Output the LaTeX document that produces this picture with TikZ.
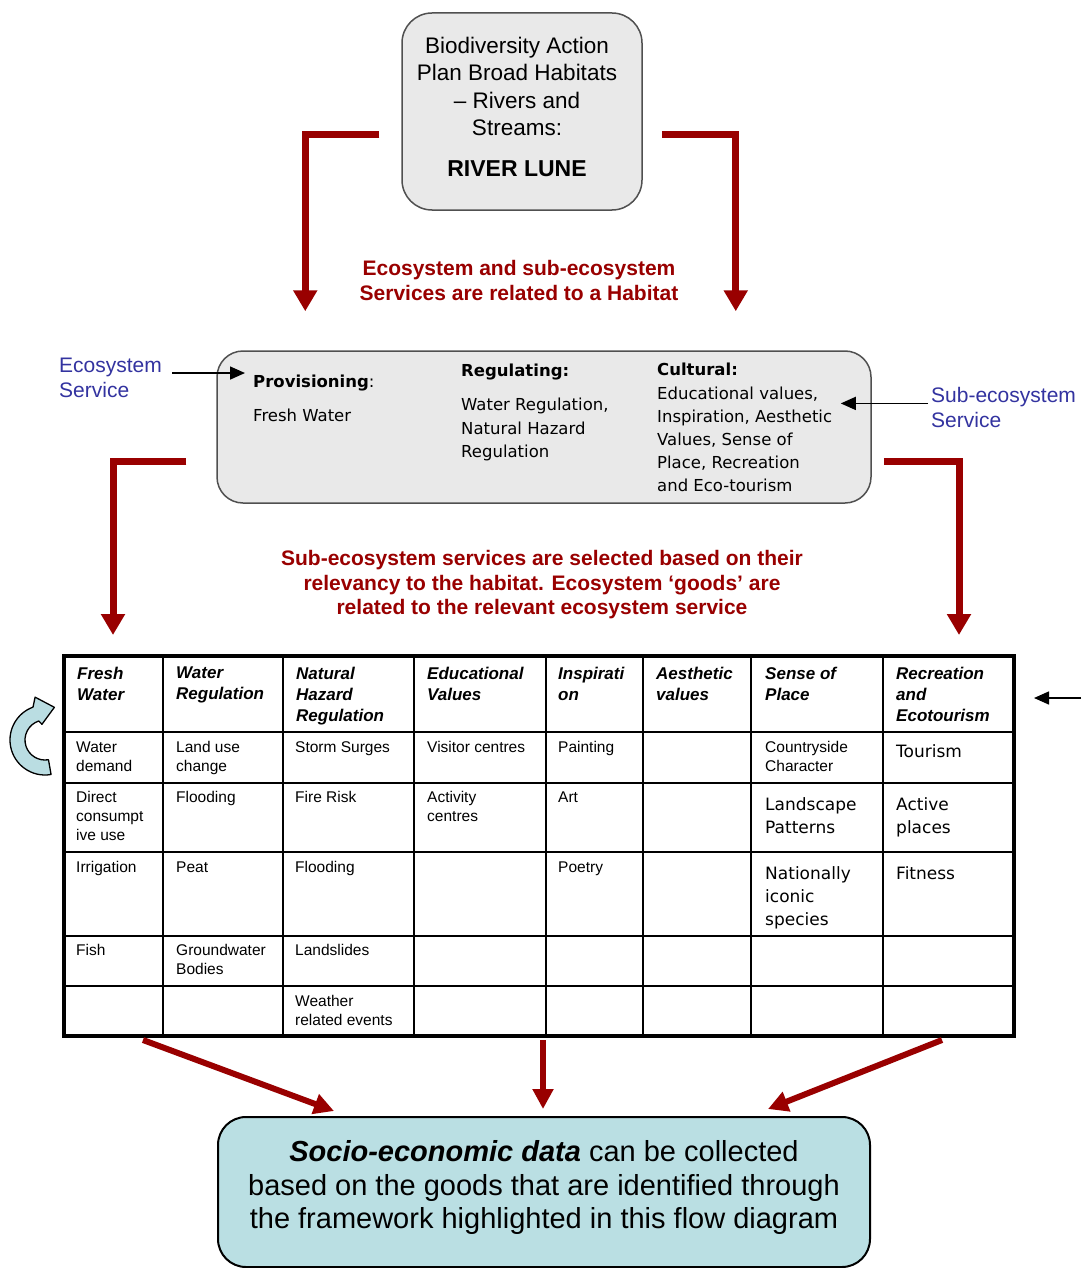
\documentclass[tikz,border=0pt]{standalone}
\usepackage{fontspec}
\setmainfont{Liberation Sans}
\newfontfamily\dvfont{DejaVu Sans}
\usetikzlibrary{arrows.meta,calc}
\definecolor{dred}{RGB}{153,0,0}
\definecolor{eblue}{RGB}{51,51,160}
\definecolor{boxgray}{RGB}{233,233,233}
\definecolor{boxedge}{RGB}{80,80,80}
\definecolor{socfill}{RGB}{186,223,227}
\definecolor{arrblue}{RGB}{186,221,226}
\begin{document}
\begin{tikzpicture}[x=1pt,y=-1pt,
  gbox/.style={draw=boxedge, fill=boxgray, line width=1.5pt, inner sep=0pt},
  redarr/.style={draw=dred, line width=7pt, line join=miter, -{Triangle[length=21pt,width=23pt]}},
  redarrb/.style={draw=dred, line width=6pt, -{Triangle[length=20pt,width=20pt]}},
  blkarr/.style={draw=black, line width=1.5pt, -{Triangle[length=15pt,width=13pt]}},
  redtxt/.style={text=dred, font=\fontsize{21}{25}\selectfont\bfseries, align=center, inner sep=0pt, anchor=north},
  bluetxt/.style={text=eblue, font=\fontsize{21}{25}\selectfont, align=left, inner sep=0pt, anchor=north west},
  midtxt/.style={font=\dvfont\fontsize{16.5}{23.3}\selectfont, align=left, inner sep=0pt, anchor=north west},
  hdr/.style={font=\fontsize{17}{21}\selectfont\bfseries\itshape, align=left, inner sep=0pt, anchor=north west},
  cell/.style={font=\fontsize{15.5}{19}\selectfont, align=left, inner sep=0pt, anchor=north west},
  bigcell/.style={font=\dvfont\fontsize{17}{23}\selectfont, align=left, inner sep=0pt, anchor=north west},
  grid/.style={draw=black, line width=1.3pt}
]
\useasboundingbox (0,0) rectangle (1081,1268);
\fill[white] (0,0) rectangle (1081,1268);

% ---------- top box ----------
\node[gbox, minimum width=240pt, minimum height=197pt, rounded corners=30pt] (hab) at (522,111.5) {};
\node[font=\fontsize{22.5}{27.3}\selectfont, align=center, inner sep=0pt, anchor=north] (habtxt) at (517,37)
  {Biodiversity Action\\Plan Broad Habitats\\– Rivers and\\Streams:};
\node[font=\fontsize{23}{27}\selectfont\bfseries, inner sep=0pt] (lune) at (517,169) {RIVER LUNE};

% ---------- middle box ----------
\node[gbox, minimum width=654pt, minimum height=152pt, rounded corners=26pt] (serv) at (544,427) {};
\node[midtxt] (prov) at (253,375) {\textbf{Provisioning}:};
\node[midtxt] (provb) at (253,409) {Fresh Water};
\node[midtxt] (regu) at (461,364) {\textbf{Regulating:}};
\node[midtxt] (regub) at (461,398) {Water Regulation,\\Natural Hazard\\Regulation};
\node[midtxt] (cult) at (657,363) {\textbf{Cultural:}};
\node[midtxt, font=\dvfont\fontsize{16.5}{23}\selectfont] (cultb) at (657,387) {Educational values,\\Inspiration, Aesthetic\\Values, Sense of\\Place, Recreation\\and Eco-tourism};

% ---------- labels ----------
\node[bluetxt] (eco) at (59,357.5) {Ecosystem\\Service};
\node[bluetxt] (sub) at (931,387.5) {Sub-ecosystem\\Service};
\node[redtxt] (rt1) at (519,260.5) {Ecosystem and sub-ecosystem\\Services are related to a Habitat};
\node[redtxt, font=\fontsize{21}{24.5}\selectfont\bfseries] (rt2) at (542,550.5)
  {Sub-ecosystem services are selected based on their\\relevancy to the habitat. Ecosystem ‘goods’ are\\related to the relevant ecosystem service};

% ---------- table ----------
\node[draw=black, line width=4pt, minimum width=950pt, minimum height=380pt, inner sep=0pt] (tbl) at (539,846) {};
\foreach \xx in {163,283,414,546,643,751,883} \draw[grid] (\xx,656) -- (\xx,1036);
\foreach \yy in {732,783,852,936,986} \draw[grid] (64,\yy) -- (1014,\yy);

\node[hdr] (h1) at (77,667) {Fresh\\Water};
\node[hdr] (h2) at (176,667) {Water\\Regulation};
\node[hdr] (h3) at (296,667) {Natural\\Hazard\\Regulation};
\node[hdr] (h4) at (427,667) {Educational\\Values};
\node[hdr] (h5) at (558,667) {Inspirati\\on};
\node[hdr] (h6) at (656,667) {Aesthetic\\values};
\node[hdr] (h7) at (765,667) {Sense of\\Place};
\node[hdr] (h8) at (896,667) {Recreation\\and\\Ecotourism};

\node[cell] (c11) at (76,741.5) {Water\\demand};
\node[cell] (c12) at (176,741.5) {Land use\\change};
\node[cell] (c13) at (295,741.5) {Storm Surges};
\node[cell] (c14) at (427,741.5) {Visitor centres};
\node[cell] (c15) at (558,741.5) {Painting};
\node[cell] (c17) at (765,741.5) {Countryside\\Character};
\node[bigcell] (c18) at (896,744) {Tourism};

\node[cell] (c21) at (76,791.5) {Direct\\consumpt\\ive use};
\node[cell] (c22) at (176,791.5) {Flooding};
\node[cell] (c23) at (295,791.5) {Fire Risk};
\node[cell] (c24) at (427,791.5) {Activity\\centres};
\node[cell] (c25) at (558,791.5) {Art};
\node[bigcell] (c27) at (765,797) {Landscape\\Patterns};
\node[bigcell] (c28) at (896,797) {Active\\places};

\node[cell] (c31) at (76,861.5) {Irrigation};
\node[cell] (c32) at (176,861.5) {Peat};
\node[cell] (c33) at (295,861.5) {Flooding};
\node[cell] (c35) at (558,861.5) {Poetry};
\node[bigcell] (c37) at (765,866) {Nationally\\iconic\\species};
\node[bigcell] (c38) at (896,866) {Fitness};

\node[cell] (c41) at (76,944.5) {Fish};
\node[cell] (c42) at (176,944.5) {Groundwater\\Bodies};
\node[cell] (c43) at (295,944.5) {Landslides};

\node[cell] (c53) at (295,995.5) {Weather\\related events};

% ---------- bottom box ----------
\node[draw=black, fill=socfill, line width=2pt, minimum width=652pt, minimum height=150pt, rounded corners=28pt, inner sep=0pt] (soc) at (544,1192) {};
\node[font=\fontsize{29}{33.5}\selectfont, align=center, inner sep=0pt, anchor=north] (soctxt) at (544,1140.5)
  {\textbf{\textit{Socio-economic data}} can be collected\\based on the goods that are identified through\\the framework highlighted in this flow diagram};

% ---------- connectors ----------
\draw[redarr] ([xshift=-22pt,yshift=-23.5pt]hab.west) -| ([xshift=89pt,yshift=39pt]serv.north west);
\draw[redarr] ([xshift=19pt,yshift=-23.5pt]hab.east) -| ([xshift=-136pt,yshift=39pt]serv.north east);
\draw[redarr] ([xshift=-30pt,yshift=-34pt]serv.west) -| ([xshift=51pt,yshift=19pt]tbl.north west);
\draw[redarr] ([xshift=12pt,yshift=-34pt]serv.east) -| ([xshift=-57pt,yshift=19pt]tbl.north east);

\draw[blkarr] ([xshift=10pt,yshift=4.5pt]eco.east) -- ([xshift=-8pt,yshift=4.5pt]prov.west |- eco.east);
\draw[blkarr] ([xshift=-3pt,yshift=4.5pt]sub.west) -- ([xshift=-31pt,yshift=4.5pt]serv.east |- sub.west);
\coordinate (redge) at (1081,698);
\draw[blkarr] (redge) -- ([xshift=18pt,yshift=148pt]tbl.east);

\draw[redarrb] ([xshift=81pt,yshift=-2pt]tbl.south west) -- ([xshift=117pt,yshift=5pt]soc.north west);
\draw[redarrb] ([xshift=4pt,yshift=-2pt]tbl.south) -- ([xshift=-1pt,yshift=7pt]soc.north);
\draw[redarrb] ([xshift=-74pt,yshift=-2pt]tbl.south east) -- ([xshift=-103pt,yshift=7pt]soc.north east);

% ---------- curved blue arrow ----------
\filldraw[fill=arrblue, draw=black, line width=1.3pt, line join=round]
  (45,740) ++(80:35) arc[start angle=80, end angle=250, radius=35]
  -- ([shift={(257:44)}]45,740) -- ([shift={(286:34)}]45,740) -- ([shift={(259:16)}]45,740)
  -- ([shift={(252:20)}]45,740) arc[start angle=252, end angle=80, radius=20] -- cycle;
\end{tikzpicture}
\end{document}
